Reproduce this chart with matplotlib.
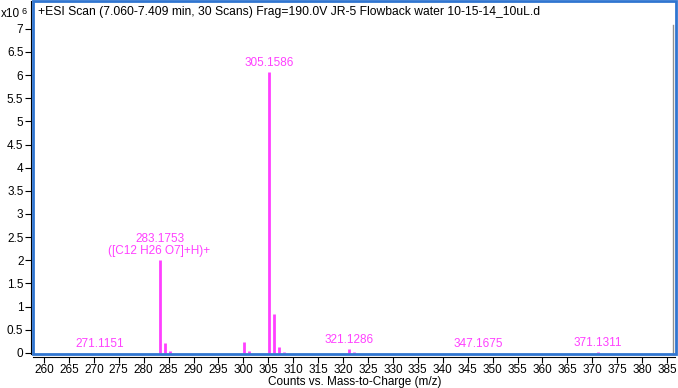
"""
Mass spectrum (+ESI scan) recreated as a stick plot.
"""
import matplotlib
matplotlib.use('Agg')
import matplotlib.pyplot as plt
from matplotlib.patches import Rectangle
from matplotlib.ticker import FixedLocator, MultipleLocator, FormatStrFormatter

# ---------- data (intensity in units of 1e6 counts) ----------
mz = [271.1151, 283.1753, 284.18, 285.18, 300.10, 301.10, 305.1586, 306.16,
      307.16, 308.17, 321.1286, 322.13, 347.1675, 371.1311]
counts = [0.004, 2.01, 0.21, 0.04, 0.24, 0.04, 6.07, 0.83,
          0.12, 0.02, 0.08, 0.03, 0.004, 0.015]

label_mz = [271.1151, 283.1753, 305.1586, 321.1286, 347.1675, 371.1311]
label_text = ['271.1151', '283.1753\n([C12 H26 O7]+H)+', '305.1586',
              '321.1286', '347.1675', '371.1311']

y_ticks = [0, 0.5, 1, 1.5, 2, 2.5, 3, 3.5, 4, 4.5, 5, 5.5, 6, 6.5, 7]

title = '+ESI Scan (7.060-7.409 min, 30 Scans) Frag=190.0V JR-5 Flowback water 10-15-14_10uL.d'
x_label = 'Counts vs. Mass-to-Charge (m/z)'

MAGENTA = '#FF40FF'
BLUE = '#3075D0'

plt.rcParams['font.family'] = ['Liberation Sans', 'DejaVu Sans']

fig = plt.figure(figsize=(6.78, 3.88), dpi=100)
ax = fig.add_axes([33.3 / 678, (388 - 354.3) / 388, 642.2 / 678, 353.3 / 388])

ax.vlines(mz, 0, counts, color=MAGENTA, linewidth=2.0)

for m, txt in zip(label_mz, label_text):
    h = counts[mz.index(m)]
    ax.annotate(txt, (m, h), xytext=(0, 2), textcoords='offset points',
                ha='center', va='bottom', color=MAGENTA, fontsize=8.5,
                linespacing=1.0)

ax.set_xlim(257.85, 386.7)
ax.set_ylim(-0.03, 7.6)

ax.xaxis.set_major_locator(MultipleLocator(5))
ax.yaxis.set_major_locator(FixedLocator(y_ticks))
ax.yaxis.set_major_formatter(FormatStrFormatter('%g'))
ax.tick_params(axis='both', length=4, width=0.8, labelsize=8.5, pad=1.5,
               colors='black')

# black axis lines slightly outside the blue frame
for side in ('top', 'right'):
    ax.spines[side].set_visible(False)
for side in ('left', 'bottom'):
    ax.spines[side].set_position(('outward', 1.6))
    ax.spines[side].set_linewidth(0.8)
    ax.spines[side].set_color('black')

# blue plot frame
ax.add_patch(Rectangle((0, 0), 1, 1, transform=ax.transAxes, fill=False,
                       edgecolor=BLUE, linewidth=2.0, clip_on=False, zorder=5))
# thin gray inner line on the right
ax.plot([0.9963, 0.9963], [0, 0.932], transform=ax.transAxes, color='#909090',
        linewidth=1.0, clip_on=False)

ax.text(4.7 / 642.2, 1 - 11 / 353.3, title, transform=ax.transAxes,
        ha='left', va='center', fontsize=8.7, color='black')

fig.text(0.5 / 678, 1 - 14 / 388, 'x10', ha='left', va='center', fontsize=8.5)
fig.text(22 / 678, 1 - 11 / 388, '6', ha='left', va='center', fontsize=6.5)

ax.set_xlabel(x_label, fontsize=8.5, labelpad=0)

fig.savefig('out.png', dpi=100)
